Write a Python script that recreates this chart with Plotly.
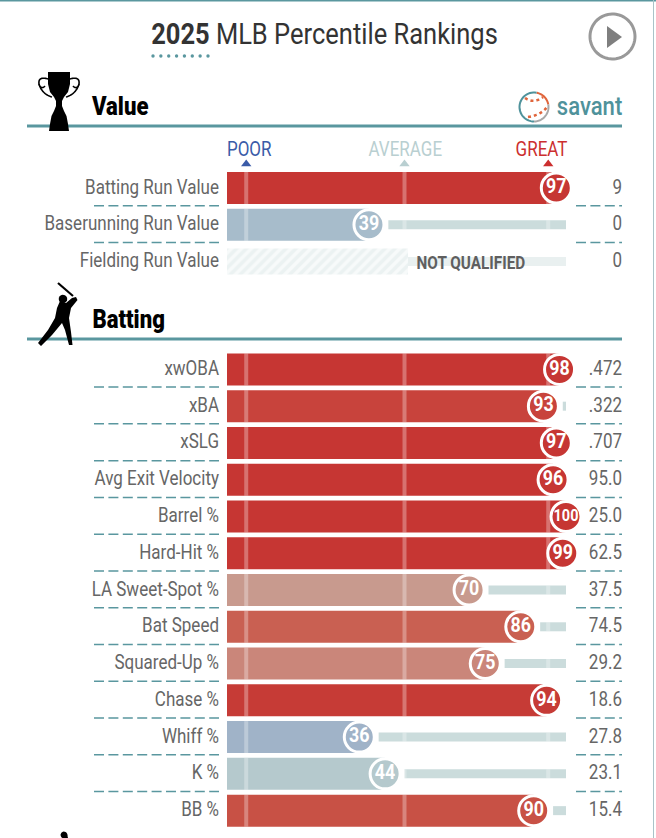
import numpy as np
import plotly.graph_objects as go

# Section rows: label, percentile rank, season stat, bar colour
value_labels = ["Batting Run Value", "Baserunning Run Value", "Fielding Run Value"]
value_pct = [97, 39, None]
value_stats = ["9", "0", "0"]
value_colors = ["#c63633", "#a7bccb", None]

batting_labels = ["xwOBA", "xBA", "xSLG", "Avg Exit Velocity", "Barrel %", "Hard-Hit %",
                  "LA Sweet-Spot %", "Bat Speed", "Squared-Up %", "Chase %", "Whiff %", "K %", "BB %"]
batting_pct = [98, 93, 97, 96, 100, 99, 70, 86, 75, 94, 36, 44, 90]
batting_stats = [".472", ".322", ".707", "95.0", "25.0", "62.5", "37.5", "74.5", "29.2",
                 "18.6", "27.8", "23.1", "15.4"]
batting_colors = ["#c63633", "#c8433c", "#c63633", "#c63633", "#c63633", "#c63633", "#c89a8e",
                  "#c96052", "#ca867a", "#c63b36", "#a0b3c8", "#b5c9cd", "#c85145"]

scale_names = ["POOR", "AVERAGE", "GREAT"]
scale_pct = [1, 50, 94.5]
scale_colors = ["#3a5ba8", "#b9cfd1", "#cc2f2f"]

# Page geometry in pixels
W, H = 656, 838
ZERO_PX, PX_PER_PCT = 243.0, 3.23
BAR_START = (227 - ZERO_PX) / PX_PER_PCT
TEAL = "#5a979f"
GREY = "#666666"
FAMILY = "Roboto"
CONDENSE = 0.85


def pct(px):
    return (px - ZERO_PX) / PX_PER_PCT


def rows(start, step, count):
    return [start + step * i for i in range(count)]


def font(size, color=GREY, weight="normal"):
    return dict(family=FAMILY, size=size, color=color, weight=weight)


value_y = rows(188.0, 36.8, 3)
batting_y = rows(369.4, 36.77, 13)

fig = go.Figure()

all_y = value_y[:2] + batting_y
all_pct = value_pct[:2] + batting_pct
all_colors = value_colors[:2] + batting_colors

# Percentile bars
fig.add_bar(orientation="h", y=all_y, base=[BAR_START] * len(all_y),
            x=[p - BAR_START for p in all_pct], width=32,
            marker=dict(color=all_colors, line=dict(width=0)), hoverinfo="skip")

# Remaining track to the right of each marker
gap = 6
track_rows = [(y, p) for y, p in zip(all_y, all_pct) if p + gap < 100]
fig.add_bar(orientation="h", y=[r[0] for r in track_rows], base=[r[1] + gap for r in track_rows],
            x=[100 - r[1] - gap for r in track_rows], width=9,
            marker=dict(color="#cbdcdc", line=dict(width=0)), hoverinfo="skip")

# Fielding row is not qualified: hatched stub with a faint track
fig.add_bar(orientation="h", y=[value_y[2]], base=[BAR_START], x=[pct(408) - BAR_START], width=26,
            marker=dict(color="#ffffff", line=dict(width=0),
                        pattern=dict(shape="/", fgcolor="#dfe9e9", bgcolor="#f7fafa", size=7, solidity=0.5)),
            hoverinfo="skip")
fig.add_bar(orientation="h", y=[value_y[2]], base=[pct(408)], x=[100 - pct(408)], width=9,
            marker=dict(color="#e9f0f0", line=dict(width=0)), hoverinfo="skip")

# Reference lines across the bars and tracks
gx, gy = [], []
for s in scale_pct:
    for y, p in zip(all_y, all_pct):
        half = 16 if s <= p else 4.5
        if s > p and p + gap >= 100:
            continue
        gx += [s, s, None]
        gy += [y - half, y + half, None]
fig.add_scatter(x=gx, y=gy, mode="lines", line=dict(color="rgba(255,255,255,0.3)", width=4), hoverinfo="skip")

# Percentile markers
marker_font = font([17 if p == 100 else 21 for p in all_pct], "#ffffff", "bold")
fig.add_scatter(x=all_pct, y=all_y, mode="markers+text",
                text=[str(p) for p in all_pct], textposition="middle center",
                textfont=marker_font,
                marker=dict(size=30, color=all_colors, line=dict(color="#ffffff", width=3)),
                hoverinfo="skip")

# Row labels and stats
label_y = value_y + batting_y
labels = value_labels + batting_labels
stats = value_stats + batting_stats
fig.add_scatter(x=[pct(219)] * len(labels), y=[y + 0.5 for y in label_y], mode="text", text=labels,
                textposition="middle left", textfont=font(20), hoverinfo="skip")
fig.add_scatter(x=[pct(622)] * len(stats), y=[y + 0.5 for y in label_y], mode="text", text=stats,
                textposition="middle left", textfont=font(20), hoverinfo="skip")

# Dashed separators between rows
sep_y = [y + 17.7 for y in value_y[:2]] + [y + 17.7 for y in batting_y[:-1]]
for a, b in [(94, 219), (576, 622)]:
    sx, sy = [], []
    for y in sep_y:
        sx += [pct(a), pct(b), None]
        sy += [y, y, None]
    fig.add_scatter(x=sx, y=sy, mode="lines", line=dict(color=TEAL, width=1.5, dash="10px,4.4px"),
                    hoverinfo="skip")

# Poor / average / great scale
fig.add_scatter(x=scale_pct, y=[164] * 3, mode="markers", hoverinfo="skip",
                marker=dict(symbol="triangle-up", size=9, color=scale_colors))
for name, px, col in zip(scale_names, [249, 405, 541], scale_colors):
    fig.add_annotation(x=pct(px), y=149, text=name, showarrow=False, font=font(20, col))
fig.add_annotation(x=pct(470.5), y=262, text="NOT QUALIFIED", showarrow=False, font=font(18, "#5f5f5f", "bold"))

# Title, section headers, logo text
fig.add_annotation(x=pct(180), y=33, showarrow=False, text="2025", font=font(30, "#333333", "bold"))
fig.add_annotation(x=pct(357), y=33, showarrow=False, text="MLB Percentile Rankings", font=font(30, "#333333"))
fig.add_annotation(x=pct(119.5), y=106, showarrow=False, text="Value", font=font(26, "#000000", 900))
fig.add_annotation(x=pct(128), y=319, showarrow=False, text="Batting", font=font(26, "#000000", 900))
fig.add_annotation(x=pct(589.5), y=106, showarrow=False, text="savant", font=font(26, "#4f929b", 500))

# Dotted accent under the year
fig.add_scatter(x=[pct(v) for v in np.linspace(153, 208, 8)], y=[56] * 8, mode="markers", hoverinfo="skip",
                marker=dict(size=3.4, color=TEAL))


def px_x(v):
    return pct(v)


def path(points, close=True):
    coords = [f"{px_x(x):.3f},{y:.2f}" for x, y in points]
    return "M" + " L".join(coords) + (" Z" if close else "")


def arc(cx, cy, r, a0, a1, n=30):
    t = np.radians(np.linspace(a0, a1, n))
    return [(cx + r * np.cos(v), cy - r * np.sin(v)) for v in t]


def curve(p0, p1, p2, n=24):
    t = np.linspace(0, 1, n)
    return [((1 - u) ** 2 * p0[0] + 2 * u * (1 - u) * p1[0] + u ** 2 * p2[0],
             (1 - u) ** 2 * p0[1] + 2 * u * (1 - u) * p1[1] + u ** 2 * p2[1]) for u in t]


shapes = []


def add_fill(points, color="#000000"):
    shapes.append(dict(type="path", path=path(points), fillcolor=color, line=dict(width=0), layer="above"))


def add_stroke(points, color, width, dash="solid"):
    shapes.append(dict(type="path", path=path(points, close=False), line=dict(color=color, width=width, dash=dash),
                       layer="above"))


def add_rule(y):
    shapes.append(dict(type="line", x0=px_x(27), x1=px_x(622), y0=y, y1=y, line=dict(color=TEAL, width=3), layer="below"))


add_rule(126)
add_rule(339)

# Panel border
shapes.append(dict(type="line", x0=px_x(0), x1=px_x(656), y0=0.8, y1=0.8, line=dict(color=TEAL, width=1.5), layer="below"))
shapes.append(dict(type="line", x0=px_x(653.5), x1=px_x(653.5), y0=0, y1=838, line=dict(color="#a9c3c8", width=1), layer="below"))

# Play button
add_stroke(arc(612.5, 36.5, 22.5, 0, 360, 72), "#999999", 3)
add_fill([(607, 26), (607, 48), (622, 37)], "#7f7f7f")

# Trophy
add_fill([(48, 72), (70, 72), (70, 84), (68, 92), (64, 97), (62, 101), (62, 106), (64, 111), (66.5, 116), (68, 124), (69, 131),
          (49, 131), (50, 124), (51.5, 116), (54, 111), (56, 106), (56, 101), (54, 97), (50, 92), (48, 84)])
for sign in (-1, 1):
    m = lambda pts: [(59 + sign * (x - 59), y) for x, y in pts]
    add_stroke(m(curve((48, 79), (38, 76), (39, 84)) + curve((39, 84), (41, 90), (45, 86))), "#000000", 1.6)
    add_stroke(m(curve((39, 84), (42, 94), (52, 97))), "#000000", 1.6)

# Batter
add_fill([(60, 301), (66, 303), (72, 298), (76, 297), (77.5, 300), (71, 308), (69, 318), (71, 332), (72.5, 345), (69, 345),
          (65, 330), (62, 323), (52, 335), (41, 346), (38, 343), (48, 330), (55, 318), (57, 308)])
add_fill(arc(63, 299, 4.2, 0, 360, 24))
add_stroke([(58, 283), (73, 296)], "#000000", 2.2)

# Head of the next section's icon at the page edge
add_fill(arc(64, 835, 3.4, 0, 360, 24))
add_fill([(62, 836), (67, 834), (68, 838), (63, 838)])

# Baseball mark
add_stroke(arc(534, 107, 14.5, 80, 10), "#e0653c", 2)
add_stroke(arc(534, 107, 14.5, 10, -90), "#a8a8a8", 2)
add_stroke(arc(534, 107, 14.5, -90, -280), "#4f929b", 2)
add_stroke(curve((525, 98), (534, 104), (543, 97)), "#e0653c", 2.6, "dot")
add_stroke(curve((528, 117), (541, 115), (547, 107)), "#e0653c", 2.6, "dot")

fig.update_layout(
    width=W, height=H, margin=dict(l=0, r=0, t=0, b=0), autosize=False,
    showlegend=False, barmode="overlay", paper_bgcolor="#ffffff", plot_bgcolor="#ffffff",
    xaxis=dict(range=[pct(0), pct(W)], visible=False, fixedrange=True),
    yaxis=dict(range=[H, 0], visible=False, fixedrange=True),
    shapes=shapes,
)

# The labels are set in a condensed cut: narrow every text run once the plot has rendered
condense_text = """
document.querySelectorAll('svg text').forEach(function (t) {
    var w = t.getComputedTextLength();
    if (w > 0) {
        t.setAttribute('textLength', w * %s);
        t.setAttribute('lengthAdjust', 'spacingAndGlyphs');
    }
});
""" % CONDENSE
fig.write_html("out.html", config={"displayModeBar": False}, post_script=condense_text)
